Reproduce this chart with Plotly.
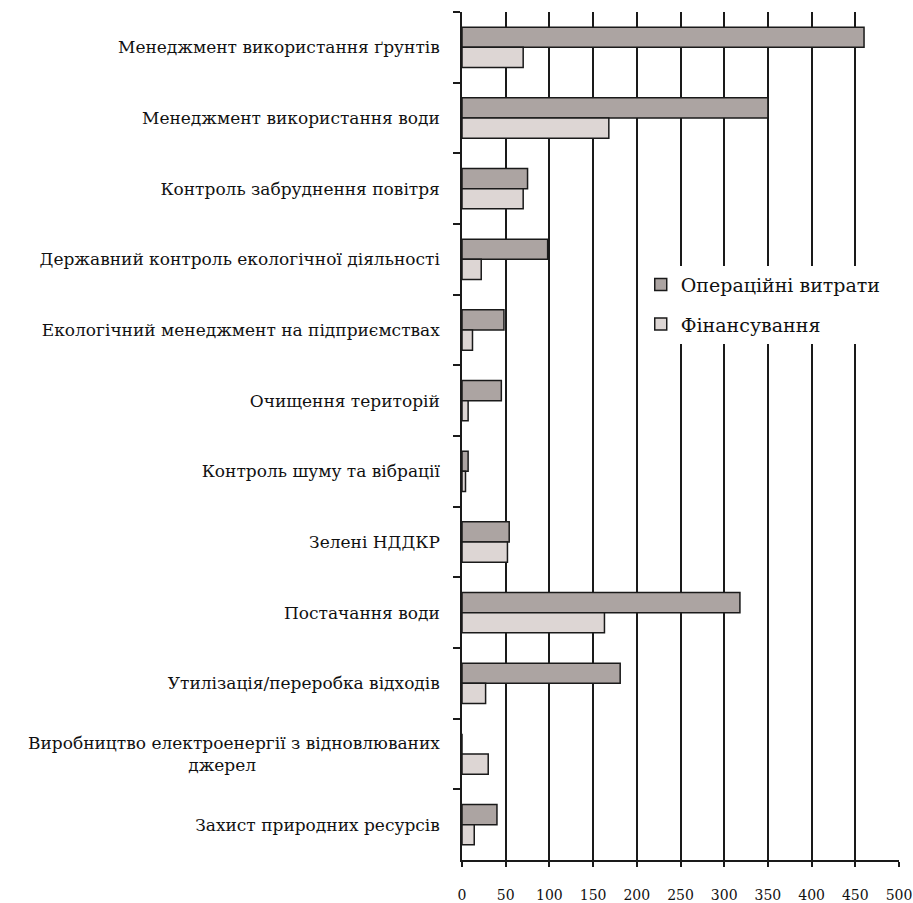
import plotly.graph_objects as go

NBSP = "\u00a0"

categories = [
    "Менеджмент використання ґрунтів",
    "Менеджмент використання води",
    "Контроль забруднення повітря",
    "Державний контроль екологічної діяльності",
    "Екологічний менеджмент на підприємствах",
    "Очищення територій",
    "Контроль шуму та вібрації",
    "Зелені НДДКР",
    "Постачання води",
    "Утилізація/переробка відходів",
    "Виробництво електроенергії з відновлюваних<br>джерел" + NBSP * 34,
    "Захист природних ресурсів",
]

operating_costs = [460, 350, 75, 98, 48, 45, 7, 54, 318, 181, 0, 40]
financing = [70, 168, 70, 22, 12, 7, 4, 52, 163, 27, 30, 14]

x_ticks = [0, 50, 100, 150, 200, 250, 300, 350, 400, 450, 500]

font_family = "DejaVu Serif"

fig = go.Figure()
fig.add_trace(go.Bar(
    y=categories, x=operating_costs, orientation="h",
    name="Операційні витрати", legendgroup="a",
    marker=dict(color="#aca4a2", line=dict(color="#1a1a1a", width=1.5)),
))
fig.add_trace(go.Bar(
    y=categories, x=financing, orientation="h",
    name="Фінансування", legendgroup="b",
    marker=dict(color="#ddd6d4", line=dict(color="#1a1a1a", width=1.5)),
))

fig.update_layout(
    width=913, height=903,
    margin=dict(l=462, r=14, t=12, b=43),
    paper_bgcolor="white", plot_bgcolor="white",
    barmode="group", bargap=0.43, bargroupgap=0,
    font=dict(family=font_family, color="#111", size=14),
    legend=dict(
        x=0.409, y=0.701, xanchor="left", yanchor="top",
        bgcolor="white", borderwidth=0,
        font=dict(size=19, family=font_family),
        tracegroupgap=12, traceorder="grouped",
    ),
    showlegend=True,
)

fig.update_xaxes(
    range=[0, 500], tickvals=x_ticks,
    showgrid=True, gridcolor="#1a1a1a", gridwidth=1.5,
    showline=True, linecolor="#1a1a1a", linewidth=1.5,
    ticks="outside", ticklen=5, tickcolor="#1a1a1a", tickwidth=1.5,
    ticklabelstandoff=16, ticklabeloverflow="allow",
    tickfont=dict(size=14, family=font_family),
    zeroline=False, automargin=False,
)
fig.update_yaxes(
    autorange="reversed", type="category",
    showline=True, linecolor="#1a1a1a", linewidth=1.5,
    ticks="outside", ticklen=7, tickcolor="#1a1a1a", tickwidth=1.5,
    tickson="boundaries", showgrid=False,
    tickfont=dict(size=17, family=font_family),
    ticklabelstandoff=17, automargin=False,
)

fig.write_html("out.html")
